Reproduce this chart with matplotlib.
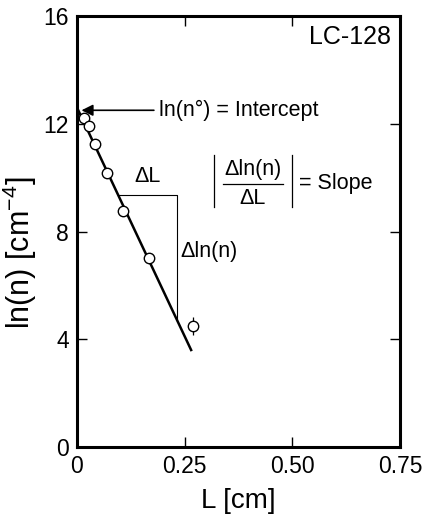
import matplotlib
matplotlib.use("Agg")
import matplotlib.pyplot as plt
import numpy as np

plt.rcParams['font.family'] = ['Liberation Sans', 'DejaVu Sans']
plt.rcParams['mathtext.fontset'] = 'custom'
plt.rcParams['mathtext.rm'] = 'Liberation Sans'
plt.rcParams['mathtext.it'] = 'Liberation Sans'

# measured data
L = [0.016, 0.029, 0.042, 0.069, 0.1075, 0.168, 0.269]
ln_n = [12.20, 11.92, 11.24, 10.18, 8.77, 7.03, 4.49]
err = [0, 0, 0, 0, 0, 0, 0.34]

# fitted line
intercept = 12.6
slope = -33.96
fit_L = [0.0, 0.265]

# slope triangle
tri_L = [0.096, 0.233]

fig = plt.figure(figsize=(4.24, 5.16), dpi=100)
ax = fig.add_axes([0.1816, 0.1337, 0.7618, 0.8353])

fit_y = [intercept + slope * x for x in fit_L]
ax.plot(fit_L, fit_y, color='black', lw=1.8, zorder=2)

y_top = intercept + slope * tri_L[0]
y_bot = intercept + slope * tri_L[1]
ax.plot([tri_L[0], tri_L[1], tri_L[1]], [y_top, y_top, y_bot], color='black', lw=0.8, zorder=1)

ax.errorbar(L, ln_n, yerr=err, fmt='o', ms=7.5, mfc='white', mec='black', mew=1.0,
            ecolor='black', elinewidth=0.9, capsize=0, zorder=3)

ax.annotate('', xy=(0.004, 12.5), xytext=(0.185, 12.5),
            arrowprops=dict(arrowstyle='-|>', color='black', lw=1.2, mutation_scale=17))
ax.text(0.19, 12.5, 'ln(n°) = Intercept', fontsize=15.5, va='center', ha='left')

ax.text(0.165, 9.65, 'ΔL', fontsize=15.5, ha='center', va='bottom')
ax.text(0.24, 7.25, 'Δln(n)', fontsize=15.5, ha='left', va='center')

# slope formula
ax.plot([0.318, 0.318], [8.9, 10.85], color='black', lw=0.9)
ax.plot([0.500, 0.500], [8.9, 10.85], color='black', lw=0.9)
ax.plot([0.339, 0.478], [9.78, 9.78], color='black', lw=0.9)
ax.text(0.4085, 9.92, 'Δln(n)', fontsize=15.5, ha='center', va='bottom')
ax.text(0.4085, 9.62, 'ΔL', fontsize=15.5, ha='center', va='top')
ax.text(0.515, 9.78, '= Slope', fontsize=15.5, ha='left', va='center')

ax.text(0.728, 15.68, 'LC-128', fontsize=18, ha='right', va='top')

ax.set_xlim(0, 0.75)
ax.set_ylim(0, 16)
ax.set_xticks([0, 0.25, 0.5, 0.75])
ax.set_xticklabels(['0', '0.25', '0.50', '0.75'])
ax.set_yticks([0, 4, 8, 12, 16])
ax.tick_params(direction='in', length=7, width=1.0, top=True, right=True,
               labelsize=16.5, pad=6)
for s in ax.spines.values():
    s.set_linewidth(2.2)

ax.set_xlabel('L [cm]', fontsize=20, labelpad=7)
ax.set_ylabel('ln(n) [cm$^{-4}$]', fontsize=22)
ax.yaxis.set_label_coords(-0.118, 0.45)

fig.savefig('out.png', dpi=100)
